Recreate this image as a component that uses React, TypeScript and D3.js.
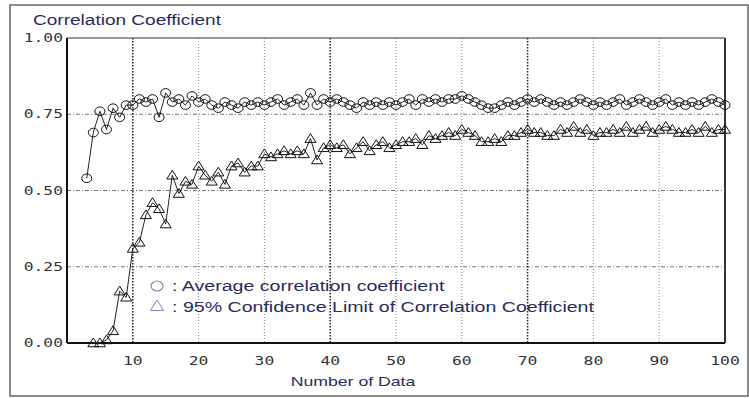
import React from 'react';
import * as d3 from 'd3';

// number of data points for each series
const avgN = d3.range(3, 101);
const confN = d3.range(4, 101);

// average correlation coefficient, n = 3..100
const avgValues = [
  0.54, 0.69, 0.76, 0.70, 0.77, 0.74, 0.78, 0.78, 0.80, 0.79,
  0.80, 0.74, 0.82, 0.79, 0.80, 0.78, 0.81, 0.79, 0.80, 0.78,
  0.77, 0.79, 0.78, 0.77, 0.79, 0.78, 0.79, 0.78, 0.79, 0.80,
  0.78, 0.79, 0.80, 0.78, 0.82, 0.78, 0.80, 0.79, 0.80, 0.79,
  0.78, 0.77, 0.79, 0.78, 0.79, 0.78, 0.79, 0.78, 0.79, 0.80,
  0.78, 0.80, 0.79, 0.80, 0.79, 0.80, 0.80, 0.81, 0.80, 0.79,
  0.78, 0.77, 0.77, 0.78, 0.79, 0.78, 0.79, 0.80, 0.79, 0.80,
  0.79, 0.78, 0.79, 0.78, 0.79, 0.80, 0.79, 0.78, 0.79, 0.78,
  0.79, 0.80, 0.78, 0.79, 0.80, 0.79, 0.78, 0.79, 0.80, 0.78,
  0.79, 0.78, 0.79, 0.78, 0.79, 0.80, 0.79, 0.78,
];

// 95% confidence limit, n = 4..100
const confValues = [
  0.00, 0.00, 0.01, 0.04, 0.17, 0.15, 0.31, 0.33, 0.42, 0.46,
  0.44, 0.39, 0.55, 0.49, 0.53, 0.52, 0.58, 0.55, 0.53, 0.56,
  0.52, 0.58, 0.59, 0.56, 0.58, 0.58, 0.62, 0.61, 0.62, 0.63,
  0.62, 0.63, 0.62, 0.67, 0.60, 0.64, 0.65, 0.64, 0.65, 0.62,
  0.64, 0.66, 0.63, 0.65, 0.66, 0.64, 0.65, 0.66, 0.66, 0.67,
  0.65, 0.68, 0.67, 0.68, 0.69, 0.68, 0.70, 0.69, 0.68, 0.66,
  0.66, 0.67, 0.66, 0.68, 0.68, 0.69, 0.70, 0.69, 0.69, 0.68,
  0.68, 0.70, 0.69, 0.71, 0.69, 0.70, 0.68, 0.69, 0.69, 0.70,
  0.69, 0.71, 0.69, 0.70, 0.71, 0.69, 0.70, 0.71, 0.70, 0.69,
  0.69, 0.70, 0.69, 0.71, 0.69, 0.70, 0.70,
];

const xTicks = [10, 20, 30, 40, 50, 60, 70, 80, 90, 100];
const yTicks = [0, 0.25, 0.5, 0.75, 1.0];
const majorX = [10, 40, 70];

const width = 749;
const height = 398;
const margin = { left: 67, right: 24, top: 38, bottom: 55 };

const textColor = '#2a2a60';

// stretched text helper, the original lettering is wide
const Label = ({ x, y, anchor = 'start', size = 14, sx = 1.36, family = 'Liberation Sans, Arial, sans-serif', fill = textColor, children }: any) => (
  <g transform={`translate(${x},${y}) scale(${sx},1)`}>
    <text textAnchor={anchor} fontSize={size} fontFamily={family} fill={fill}>{children}</text>
  </g>
);

const Triangle = ({ cx, cy, r = 5, stroke = '#111' }: any) => (
  <path
    d={`M${cx},${cy - r}L${cx + r * 1.1},${cy + r * 0.75}L${cx - r * 1.1},${cy + r * 0.75}Z`}
    fill="none"
    stroke={stroke}
    strokeWidth={1}
  />
);

export default function App() {
  const x = d3.scaleLinear().domain([0, 100]).range([margin.left, width - margin.right]);
  const y = d3.scaleLinear().domain([0, 1]).range([height - margin.bottom, margin.top]);

  const avgData = avgN.map((n, i) => [n, avgValues[i]] as [number, number]);
  const confData = confN.map((n, i) => [n, confValues[i]] as [number, number]);

  const line = d3.line<[number, number]>().x(d => x(d[0])).y(d => y(d[1]));

  const [x0, x1] = x.range();
  const [yb, yt] = y.range();
  const mono = 'DejaVu Sans Mono, monospace';

  return (
    <svg width={width} height={height} style={{ position: 'absolute', left: 0, top: 0, background: '#fff' }}>
      {/* outer frame */}
      <rect x={10} y={5} width={width - 11} height={height - 7} fill="none" stroke="#666" strokeWidth={1.5} />

      {/* title */}
      <Label x={33} y={25}>Correlation Coefficient</Label>

      {/* horizontal grid */}
      {yTicks.filter(t => t > 0 && t < 1).map(t => (
        <line key={'h' + t} x1={x0} x2={x1} y1={y(t)} y2={y(t)} stroke="#777" strokeWidth={1} strokeDasharray="4,2,1,2" />
      ))}

      {/* vertical grid */}
      {xTicks.filter(t => t < 100).map(t => {
        const major = majorX.includes(t);
        return (
          <line
            key={'v' + t}
            x1={x(t)} x2={x(t)} y1={yt} y2={yb}
            stroke={major ? '#222' : '#888'}
            strokeWidth={major ? 1.5 : 1}
            strokeDasharray={major ? '1.5,1.5' : '1,2'}
          />
        );
      })}

      {/* plot border */}
      <line x1={x0} x2={x1} y1={yt} y2={yt} stroke="#333" strokeWidth={1} />
      <line x1={x1} x2={x1} y1={yt} y2={yb} stroke="#333" strokeWidth={2} />
      <line x1={x0} x2={x0} y1={yt} y2={yb} stroke="#111" strokeWidth={2} />
      <line x1={x0} x2={x1} y1={yb} y2={yb} stroke="#111" strokeWidth={2} />

      {/* y tick labels */}
      {yTicks.map(t => (
        <Label key={'yl' + t} x={x0 - 4} y={y(t) + 4} anchor="end" size={12} family={mono} fill="#333">
          {t.toFixed(2)}
        </Label>
      ))}

      {/* x tick labels */}
      {xTicks.map(t => (
        <Label key={'xl' + t} x={x(t)} y={yb + 22} anchor="middle" size={12} family={mono} fill="#333">
          {t}
        </Label>
      ))}

      {/* x axis title */}
      <Label x={353} y={386} anchor="middle" size={13}>Number of Data</Label>

      {/* series lines */}
      <path d={line(avgData) || ''} fill="none" stroke="#222" strokeWidth={1} />
      <path d={line(confData) || ''} fill="none" stroke="#222" strokeWidth={1} />

      {/* markers */}
      {avgData.map(d => (
        <ellipse key={'c' + d[0]} cx={x(d[0])} cy={y(d[1])} rx={5} ry={4.3} fill="none" stroke="#111" strokeWidth={1} />
      ))}
      {confData.map(d => (
        <Triangle key={'t' + d[0]} cx={x(d[0])} cy={y(d[1])} />
      ))}

      {/* legend */}
      <ellipse cx={157} cy={286} rx={6} ry={5} fill="none" stroke="#8088b0" strokeWidth={1.2} />
      <Label x={172} y={291} sx={1.4}>: Average correlation coefficient</Label>
      <Triangle cx={157} cy={306} r={6} stroke="#8088b0" />
      <Label x={172} y={312} sx={1.4}>: 95% Confidence Limit of Correlation Coefficient</Label>
    </svg>
  );
}
